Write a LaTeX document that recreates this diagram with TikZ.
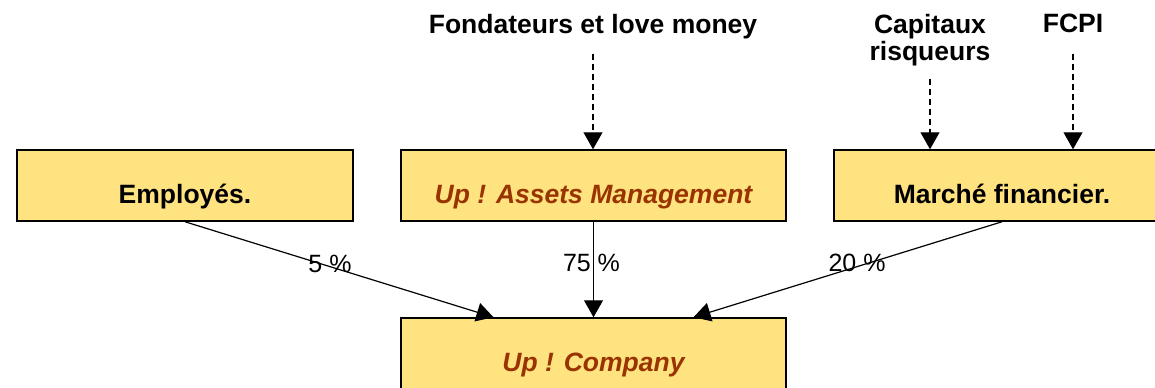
\documentclass[tikz,border=0pt]{standalone}
\usepackage{fontspec}
\setmainfont{Liberation Sans}
\usetikzlibrary{arrows.meta}
\definecolor{boxfill}{RGB}{255,227,128}
\definecolor{upred}{RGB}{153,51,0}

\begin{document}
\begin{tikzpicture}[x=0.5pt,y=-0.5pt,
  box/.style={draw=black,line width=0.75pt,fill=boxfill,inner sep=0pt,
    minimum height=35.5pt,text height=17.5pt,text depth=0pt,
    font=\fontsize{13.25}{13.5}\selectfont\bfseries},
  upbox/.style={box,text=upred,font=\fontsize{13.25}{13.5}\selectfont\bfseries\itshape},
  src/.style={inner sep=0pt,align=center,anchor=north,
    font=\fontsize{13.25}{13.5}\selectfont\bfseries},
  flow/.style={-{Triangle[length=8.5pt,width=9.5pt]},line width=0.6pt},
  feed/.style={flow,dash pattern=on 3pt off 2pt},
  pct/.style={inner sep=0pt,font=\fontsize{12.5}{13}\selectfont}]
\useasboundingbox (0,0) rectangle (1155,387);

% the four boxes
\node[box,minimum width=168pt] (emp) at (185,185.5) {Employés.};
\node[upbox,minimum width=192.5pt] (ama) at (593.5,185.5) {Up ! Assets Management};
\node[box,minimum width=168pt] (mf) at (1002,185.5) {Marché financier.};
\node[upbox,minimum width=192.5pt] (comp) at (593.5,353.5) {Up ! Company};

% sources on top
\node[src] (fond) at (593,14) {Fondateurs et love money};
\node[src] (cap) at (930,14) {Capitaux\\risqueurs};
\node[src] (fcpi) at (1073,14) {FCPI};

\draw[feed,shorten <=7pt] (fond.south) -- (fond.south |- ama.north);
\draw[feed,shorten <=6pt] (cap.south) -- (cap.south |- mf.north);
\draw[feed,shorten <=10pt] (fcpi.south) -- (fcpi.south |- mf.north);

% shares of the capital
\draw[flow] (emp.south) -- node[pct,pos=0.47,yshift=1.5pt] {5 \%} ([xshift=-50pt]comp.north);
\draw[flow] (ama.south) -- node[pct,pos=0.43,xshift=-1pt] {75 \%} (comp.north);
\draw[flow] (mf.south) -- node[pct,pos=0.47,yshift=2pt] {20 \%} ([xshift=50pt]comp.north);
\end{tikzpicture}
\end{document}
